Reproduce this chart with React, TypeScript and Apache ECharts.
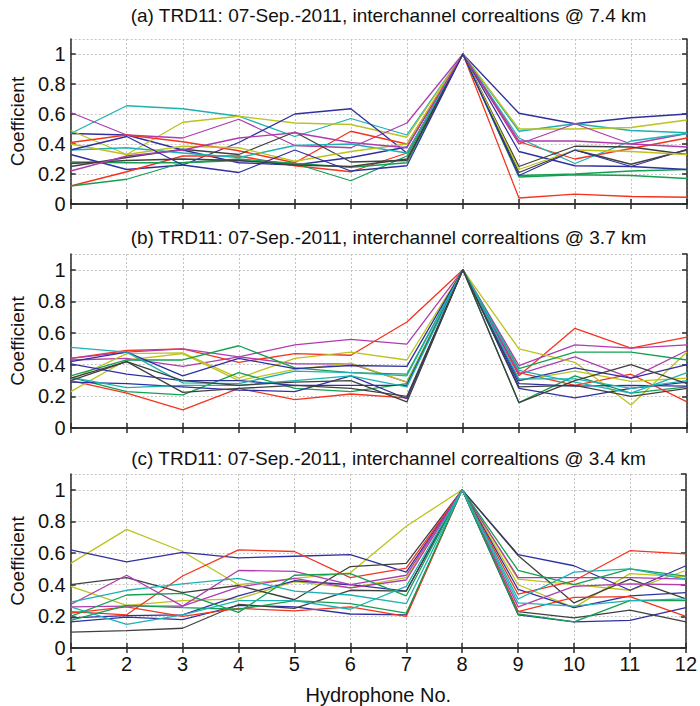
import React, { useEffect, useRef } from "react";
import * as echarts from "echarts";

const hydrophones = [1, 2, 3, 4, 5, 6, 7, 8, 9, 10, 11, 12];
const yTicks = [0, 0.2, 0.4, 0.6, 0.8, 1];

const titles = [
  "(a) TRD11: 07-Sep.-2011, interchannel correaltions @ 7.4 km",
  "(b) TRD11: 07-Sep.-2011, interchannel correaltions @ 3.7 km",
  "(c) TRD11: 07-Sep.-2011, interchannel correaltions @ 3.4 km",
];

// line colour keys: b = blue, g = green, r = red, c = cyan, m = magenta, y = olive, k = dark grey
const palette: Record<string, string> = {
  b: "#3030a0",
  g: "#14a050",
  r: "#f5341e",
  c: "#1cb2b2",
  m: "#b03cb0",
  y: "#bcc21e",
  k: "#404040",
};

// Panel (a) 7.4 km
const panelAColors = ["b", "c", "y", "m", "b", "r", "r", "g", "g", "c", "k", "k", "y", "m", "b"];
const panelA = [
  [0.47, 0.46, 0.36, 0.275, 0.26, 0.31, 0.38, 1, 0.605, 0.535, 0.575, 0.6],
  [0.47, 0.655, 0.635, 0.585, 0.45, 0.57, 0.46, 1, 0.485, 0.535, 0.49, 0.475],
  [0.49, 0.33, 0.545, 0.585, 0.54, 0.53, 0.445, 1, 0.5, 0.5, 0.51, 0.56],
  [0.61, 0.46, 0.44, 0.565, 0.39, 0.375, 0.54, 1, 0.4, 0.535, 0.4, 0.47],
  [0.33, 0.23, 0.26, 0.41, 0.6, 0.635, 0.34, 1, 0.35, 0.255, 0.25, 0.365],
  [0.41, 0.46, 0.415, 0.355, 0.275, 0.485, 0.4, 1, 0.415, 0.3, 0.37, 0.44],
  [0.12, 0.215, 0.32, 0.32, 0.255, 0.215, 0.34, 1, 0.04, 0.066, 0.05, 0.045],
  [0.12, 0.165, 0.275, 0.29, 0.27, 0.155, 0.32, 1, 0.18, 0.195, 0.19, 0.17],
  [0.28, 0.275, 0.275, 0.3, 0.27, 0.245, 0.275, 1, 0.19, 0.2, 0.22, 0.23],
  [0.36, 0.375, 0.34, 0.31, 0.39, 0.4, 0.34, 1, 0.44, 0.27, 0.42, 0.47],
  [0.25, 0.31, 0.365, 0.33, 0.48, 0.28, 0.29, 1, 0.25, 0.385, 0.38, 0.33],
  [0.27, 0.29, 0.3, 0.29, 0.26, 0.25, 0.3, 1, 0.21, 0.36, 0.265, 0.36],
  [0.4, 0.33, 0.385, 0.375, 0.285, 0.35, 0.4, 1, 0.23, 0.36, 0.35, 0.33],
  [0.22, 0.32, 0.36, 0.44, 0.475, 0.41, 0.375, 1, 0.42, 0.42, 0.4, 0.38],
  [0.36, 0.45, 0.26, 0.21, 0.36, 0.22, 0.255, 1, 0.19, 0.36, 0.25, 0.23],
];

// Panel (b) 3.7 km
const panelBColors = ["r", "r", "m", "m", "y", "y", "g", "g", "b", "b", "b", "c", "c", "k", "k"];
const panelB = [
  [0.44, 0.49, 0.5, 0.415, 0.47, 0.46, 0.67, 1, 0.33, 0.63, 0.505, 0.575],
  [0.3, 0.22, 0.115, 0.25, 0.18, 0.215, 0.19, 1, 0.35, 0.27, 0.34, 0.165],
  [0.43, 0.44, 0.39, 0.45, 0.525, 0.56, 0.53, 1, 0.395, 0.525, 0.505, 0.525],
  [0.44, 0.48, 0.5, 0.45, 0.405, 0.405, 0.29, 1, 0.34, 0.45, 0.315, 0.49],
  [0.305, 0.47, 0.475, 0.315, 0.44, 0.48, 0.43, 1, 0.5, 0.415, 0.145, 0.48],
  [0.23, 0.43, 0.47, 0.3, 0.37, 0.41, 0.29, 1, 0.3, 0.36, 0.295, 0.315],
  [0.33, 0.43, 0.43, 0.52, 0.38, 0.35, 0.34, 1, 0.375, 0.48, 0.48, 0.43],
  [0.32, 0.23, 0.21, 0.35, 0.25, 0.23, 0.28, 1, 0.16, 0.33, 0.22, 0.26],
  [0.42, 0.48, 0.33, 0.44, 0.375, 0.395, 0.39, 1, 0.3, 0.38, 0.315, 0.4],
  [0.405, 0.34, 0.3, 0.3, 0.27, 0.27, 0.27, 1, 0.25, 0.19, 0.25, 0.29],
  [0.29, 0.28, 0.26, 0.24, 0.23, 0.33, 0.185, 1, 0.28, 0.265, 0.27, 0.265],
  [0.51, 0.48, 0.285, 0.28, 0.36, 0.35, 0.33, 1, 0.365, 0.29, 0.22, 0.35],
  [0.32, 0.255, 0.27, 0.27, 0.3, 0.33, 0.26, 1, 0.31, 0.31, 0.25, 0.3],
  [0.315, 0.42, 0.3, 0.27, 0.29, 0.3, 0.165, 1, 0.16, 0.3, 0.4, 0.28],
  [0.3, 0.42, 0.225, 0.25, 0.27, 0.25, 0.2, 1, 0.26, 0.27, 0.2, 0.25],
];

// Panel (c) 3.4 km
const panelCColors = ["y", "y", "b", "b", "b", "k", "k", "r", "r", "m", "m", "g", "g", "c", "c"];
const panelC = [
  [0.535, 0.75, 0.61, 0.4, 0.44, 0.475, 0.77, 1, 0.435, 0.4, 0.365, 0.49],
  [0.39, 0.27, 0.3, 0.31, 0.42, 0.38, 0.445, 1, 0.4, 0.255, 0.47, 0.45],
  [0.62, 0.545, 0.605, 0.57, 0.58, 0.59, 0.48, 1, 0.59, 0.52, 0.365, 0.52],
  [0.19, 0.205, 0.21, 0.33, 0.425, 0.4, 0.36, 1, 0.37, 0.255, 0.33, 0.35],
  [0.165, 0.195, 0.18, 0.27, 0.26, 0.215, 0.21, 1, 0.21, 0.165, 0.175, 0.255],
  [0.4, 0.445, 0.35, 0.395, 0.305, 0.515, 0.535, 1, 0.585, 0.285, 0.435, 0.31],
  [0.1, 0.11, 0.125, 0.275, 0.25, 0.365, 0.36, 1, 0.23, 0.19, 0.24, 0.165],
  [0.23, 0.21, 0.455, 0.62, 0.61, 0.445, 0.505, 1, 0.34, 0.425, 0.615, 0.595],
  [0.22, 0.26, 0.2, 0.25, 0.235, 0.26, 0.2, 1, 0.23, 0.32, 0.325, 0.2],
  [0.275, 0.46, 0.265, 0.49, 0.485, 0.4, 0.46, 1, 0.445, 0.445, 0.445, 0.435],
  [0.26, 0.265, 0.265, 0.385, 0.44, 0.38, 0.43, 1, 0.26, 0.39, 0.405, 0.4],
  [0.2, 0.335, 0.345, 0.225, 0.46, 0.47, 0.33, 1, 0.49, 0.4, 0.5, 0.455],
  [0.175, 0.27, 0.255, 0.245, 0.3, 0.28, 0.22, 1, 0.215, 0.165, 0.3, 0.3],
  [0.29, 0.365, 0.405, 0.44, 0.36, 0.335, 0.28, 1, 0.31, 0.48, 0.5, 0.435],
  [0.26, 0.15, 0.21, 0.3, 0.3, 0.245, 0.39, 1, 0.285, 0.265, 0.3, 0.31],
];

const xTitle = "Hydrophone No.";
const yTitle = "Coefficient";

const FONT = "'Liberation Sans', Arial, sans-serif";

const panels = [
  { data: panelA, colors: panelAColors, top: 39, height: 165, titleY: 15 },
  { data: panelB, colors: panelBColors, top: 254, height: 174, titleY: 237 },
  { data: panelC, colors: panelCColors, top: 474, height: 179, titleY: 458 },
];

const LEFT = 70;
const WIDTH = 617;

export default function App() {
  const ref = useRef<HTMLDivElement>(null);
  useEffect(() => {
    if (!ref.current) return;
    const chart = echarts.init(ref.current, null, { renderer: "svg" });
    const grids: any[] = [];
    const xAxes: any[] = [];
    const yAxes: any[] = [];
    const series: any[] = [];
    const graphics: any[] = [];
    const axisLineStyle = { color: "#2a2a2a", width: 1.5 };
    panels.forEach((p, i) => {
      grids.push({ left: LEFT, top: p.top, width: WIDTH, height: p.height, containLabel: false });
      const isLast = i === panels.length - 1;
      xAxes.push({
        type: "value",
        gridIndex: i,
        min: 1,
        max: 12,
        interval: 1,
        position: "bottom",
        axisLine: { show: true, lineStyle: axisLineStyle },
        axisTick: { show: true, inside: true, length: 5, lineStyle: axisLineStyle },
        axisLabel: {
          show: isLast,
          color: "#111",
          fontSize: 20,
          fontFamily: FONT,
          margin: 6,
        },
        splitLine: { show: true, lineStyle: { color: "#c4c4c4", type: [2, 2], width: 1 } },
        name: isLast ? xTitle : "",
        nameLocation: "middle",
        nameGap: 37,
        nameTextStyle: { color: "#111", fontSize: 20, fontFamily: FONT },
      });
      xAxes.push({
        type: "value",
        gridIndex: i,
        min: 1,
        max: 12,
        interval: 1,
        position: "top",
        axisLine: { show: true, lineStyle: axisLineStyle },
        axisTick: { show: true, inside: true, length: 5, lineStyle: axisLineStyle },
        axisLabel: { show: false },
        splitLine: { show: false },
      });
      yAxes.push({
        type: "value",
        gridIndex: i,
        min: 0,
        max: 1.1,
        interval: 0.2,
        position: "left",
        axisLine: { show: true, lineStyle: axisLineStyle },
        axisTick: { show: true, inside: true, length: 5, lineStyle: axisLineStyle },
        axisLabel: {
          show: true,
          color: "#111",
          fontSize: 20,
          fontFamily: FONT,
          margin: 5,
          showMaxLabel: false,
          formatter: (v: number) => {
            const hit = yTicks.find((t) => Math.abs(t - v) < 1e-6);
            return hit === undefined ? "" : String(hit);
          },
        },
        splitLine: { show: true, lineStyle: { color: "#c4c4c4", type: [2, 2], width: 1 } },
        name: yTitle,
        nameLocation: "middle",
        nameRotate: 90,
        nameGap: 38,
        nameTextStyle: { color: "#111", fontSize: 19, fontFamily: FONT },
      });
      yAxes.push({
        type: "value",
        gridIndex: i,
        min: 0,
        max: 1.1,
        interval: 0.2,
        position: "right",
        axisLine: { show: true, lineStyle: axisLineStyle },
        axisTick: { show: true, inside: true, length: 5, lineStyle: axisLineStyle },
        axisLabel: { show: false },
        splitLine: { show: false },
      });
      p.data.forEach((vals, k) => {
        series.push({
          type: "line",
          xAxisIndex: i * 2,
          yAxisIndex: i * 2,
          data: vals.map((v, j) => [hydrophones[j], v]),
          showSymbol: false,
          symbol: "none",
          lineStyle: { color: palette[p.colors[k]], width: 1.3 },
          itemStyle: { color: palette[p.colors[k]] },
          silent: true,
          z: 2,
        });
      });
      graphics.push({
        type: "text",
        x: LEFT + WIDTH / 2 + 10,
        y: p.titleY,
        style: {
          text: titles[i],
          fontSize: 19,
          fontFamily: FONT,
          fill: "#111",
          textAlign: "center",
          textVerticalAlign: "middle",
        },
      });
    });
    chart.setOption({
      animation: false,
      backgroundColor: "#ffffff",
      grid: grids,
      xAxis: xAxes,
      yAxis: yAxes,
      series,
      graphic: graphics,
    });
    return () => chart.dispose();
  }, []);
  return (
    <div
      ref={ref}
      style={{ position: "fixed", left: 0, top: 0, width: 700, height: 706, background: "#fff" }}
    />
  );
}
